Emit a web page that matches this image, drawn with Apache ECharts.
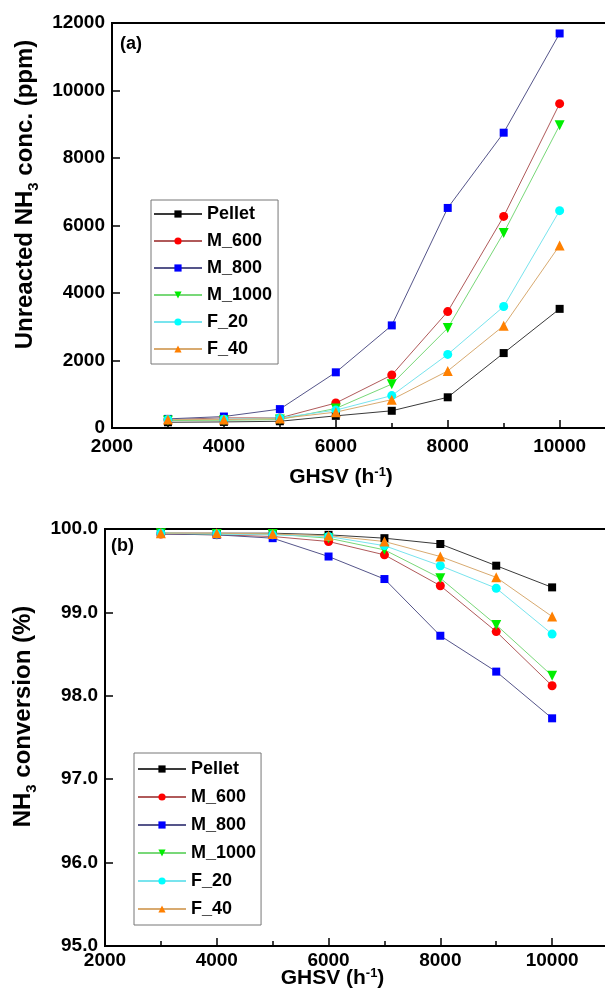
<!DOCTYPE html>
<html>
<head>
<meta charset="utf-8">
<script src="https://cdn.jsdelivr.net/npm/echarts@6/dist/echarts.min.js"></script>
<style>
  html, body { margin: 0; padding: 0; background: #fff; }
  #main { width: 605px; height: 989px; }
</style>
</head>
<body>
<div id="main"></div>
<script>
// GHSV (h-1)
const ghsv = [3000, 4000, 5000, 6000, 7000, 8000, 9000, 10000]

// (a) unreacted NH3 (ppm)
const pelletPpm = [170, 180, 200, 360, 510, 910, 2220, 3530]
const m600Ppm = [250, 300, 300, 740, 1570, 3450, 6270, 9610]
const m800Ppm = [270, 340, 560, 1650, 3040, 6520, 8750, 11690]
const m1000Ppm = [220, 230, 250, 580, 1300, 2960, 5780, 8970]
const f20Ppm = [250, 260, 300, 530, 960, 2180, 3600, 6440]
const f40Ppm = [250, 250, 280, 470, 840, 1690, 3030, 5410]

// (b) NH3 conversion (%)
const pelletConv = [99.95, 99.95, 99.95, 99.93, 99.89, 99.82, 99.56, 99.30]
const m600Conv = [99.94, 99.93, 99.91, 99.85, 99.69, 99.32, 98.77, 98.12]
const m800Conv = [99.94, 99.93, 99.89, 99.67, 99.40, 98.72, 98.29, 97.73]
const m1000Conv = [99.95, 99.94, 99.94, 99.89, 99.75, 99.41, 98.85, 98.24]
const f20Conv = [99.95, 99.94, 99.93, 99.91, 99.80, 99.56, 99.29, 98.74]
const f40Conv = [99.95, 99.95, 99.94, 99.92, 99.85, 99.67, 99.42, 98.95]

const names = ['Pellet', 'M_600', 'M_800', 'M_1000', 'F_20', 'F_40']

// marker / line look per sample
const looks = [
  { symbol: 'rect', size: 8, rotate: 0, color: '#000000', line: '#3a3a3a' },
  { symbol: 'circle', size: 9, rotate: 0, color: '#ff0000', line: '#b05a5a' },
  { symbol: 'rect', size: 8, rotate: 0, color: '#0000ff', line: '#55558a' },
  { symbol: 'triangle', size: 10, rotate: 180, color: '#00ee00', line: '#78d878' },
  { symbol: 'circle', size: 9, rotate: 0, color: '#00ffff', line: '#78e4ee' },
  { symbol: 'triangle', size: 10, rotate: 0, color: '#ff8000', line: '#d8aa70' },
]

const font = 'Liberation Sans, Arial, sans-serif'

function makeSeries(arrs, idx) {
  return arrs.map((vals, i) => ({
    name: names[i],
    type: 'line',
    xAxisIndex: idx,
    yAxisIndex: idx,
    data: ghsv.map((x, j) => [x, vals[j]]),
    symbol: looks[i].symbol,
    symbolSize: looks[i].size,
    symbolRotate: looks[i].rotate,
    showSymbol: true,
    itemStyle: { color: looks[i].color },
    lineStyle: { color: looks[i].line, width: 1 },
    emphasis: { disabled: true },
  }))
}

function xAxisCfg(idx, max, padRight, gap, labelMargin) {
  return {
    type: 'value',
    gridIndex: idx,
    min: 2000,
    max: max,
    interval: 2000,
    name: 'GHSV (h{sup|-1})',
    nameLocation: 'middle',
    nameGap: gap,
    nameMoveOverlap: false,
    nameTextStyle: {
      fontFamily: font, fontWeight: 'bold', fontSize: 21, color: '#000',
      lineHeight: 22, padding: [0, padRight, 0, 0],
      rich: { sup: { fontFamily: font, fontWeight: 'bold', fontSize: 13, lineHeight: 13, verticalAlign: 'top' } },
    },
    axisLine: { show: true, onZero: false, lineStyle: { color: '#000', width: 2 } },
    axisTick: { show: true, inside: true, length: 8, lineStyle: { color: '#000', width: 1.5 } },
    minorTick: { show: true, splitNumber: 2, length: 5, lineStyle: { color: '#000', width: 1.5 } },
    splitLine: { show: false },
    axisLabel: {
      fontFamily: font, fontWeight: 'bold', fontSize: 19, color: '#000', margin: labelMargin,
      showMaxLabel: false,
      formatter: (v) => String(v),
    },
  }
}

function yAxisCfg(idx, min, max, interval, name, rich, gap, padLeft, fmt) {
  return {
    type: 'value',
    gridIndex: idx,
    min: min,
    max: max,
    interval: interval,
    name: name,
    nameLocation: 'middle',
    nameGap: gap,
    nameTextStyle: {
      fontFamily: font, fontWeight: 'bold', fontSize: 24, color: '#000',
      lineHeight: 32, padding: [0, 0, 0, padLeft],
      rich: rich,
    },
    axisLine: { show: true, onZero: false, lineStyle: { color: '#000', width: 2 } },
    axisTick: { show: true, inside: true, length: 8, lineStyle: { color: '#000', width: 1.5 } },
    splitLine: { show: false },
    axisLabel: {
      fontFamily: font, fontWeight: 'bold', fontSize: 19, color: '#000', margin: 7,
      formatter: fmt,
    },
  }
}

const subRich = { sub: { fontFamily: font, fontWeight: 'bold', fontSize: 15, lineHeight: 15, verticalAlign: 'bottom' } }

function legendCfg(left, top, pad, gap) {
  return {
    left: left,
    top: top,
    orient: 'vertical',
    data: names,
    itemWidth: 48,
    itemHeight: 9,
    itemGap: gap,
    padding: pad,
    borderColor: '#777',
    borderWidth: 1,
    borderRadius: 0,
    backgroundColor: '#fff',
    textStyle: { fontFamily: font, fontWeight: 'bold', fontSize: 18, color: '#000', lineHeight: 18 },
    selectedMode: false,
  }
}

const chart = echarts.init(document.getElementById('main'), null, { renderer: 'canvas' })

const option = {
  animation: false,
  backgroundColor: '#fff',
  title: [
    { text: '(a)', left: 120, top: 35, textStyle: { fontFamily: font, fontWeight: 'bold', fontSize: 18, color: '#000' }, padding: 0 },
    { text: '(b)', left: 111, top: 537, textStyle: { fontFamily: font, fontWeight: 'bold', fontSize: 18, color: '#000' }, padding: 0 },
  ],
  grid: [
    { left: 112, top: 23, right: -5, height: 405, show: true, borderColor: '#000', borderWidth: 2, outerBoundsMode: 'none' },
    { left: 105, top: 529, right: -3, height: 417, show: true, borderColor: '#000', borderWidth: 2, outerBoundsMode: 'none' },
  ],
  legend: [
    legendCfg(151, 200, [5, 6, 6, 2], 9),
    legendCfg(134, 753, [7, 5, 7, 3], 10),
  ],
  xAxis: [
    xAxisCfg(0, 10900, 40, 38, 9),
    xAxisCfg(1, 11000, 48, 21, 5),
  ],
  yAxis: [
    yAxisCfg(0, 0, 12000, 2000, 'Unreacted NH{sub|3} conc. (ppm)', subRich, 70, 62, (v) => String(v)),
    yAxisCfg(1, 95, 100, 1, 'NH{sub|3} conversion (%)', subRich, 62, 42, (v) => v.toFixed(1)),
  ],
  series: [
    ...makeSeries([pelletPpm, m600Ppm, m800Ppm, m1000Ppm, f20Ppm, f40Ppm], 0),
    ...makeSeries([pelletConv, m600Conv, m800Conv, m1000Conv, f20Conv, f40Conv], 1),
  ],
}

chart.setOption(option)
</script>
</body>
</html>
